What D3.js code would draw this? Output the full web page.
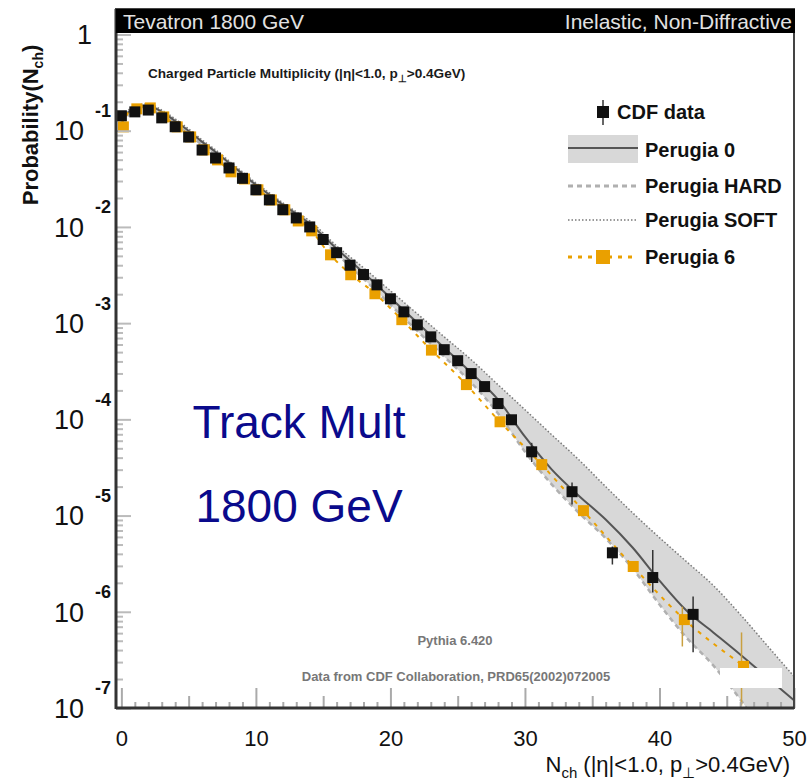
<!DOCTYPE html>
<html>
<head>
<meta charset="utf-8">
<script src="https://cdn.jsdelivr.net/npm/d3@7"></script>
<style>
  body { margin: 0; background: #fff; }
  svg text { font-family: "Liberation Sans", Arial, sans-serif; }
</style>
</head>
<body>
<div id="chart"></div>
<script>
// ---- data ----
var cdfX = [0,1,2,3,4,5,6,7,8,9,10,11,12,13,14,15,16,17,18,19,20,21,22,23,24,25,26,27,28,29,30.5,33.5,36.5,39.5,42.5];
var cdfY = [0.143,0.157,0.164,0.136,0.110,0.086,0.063,0.052,0.041,0.032,0.0243,0.0191,0.0151,0.0124,0.0100,
            0.0074,0.0054,0.0040,0.0032,0.0025,0.00179,0.00131,9.6e-4,7.2e-4,5.3e-4,4.07e-4,2.99e-4,2.19e-4,1.46e-4,9.9e-5,
            4.6e-5,1.77e-5,4.1e-6,2.27e-6,9.4e-7];
var cdfBarX  = [30.5,33.5,36.5,39.5,42.5];
var cdfBarLo = [3.6e-5,1.30e-5,3.1e-6,1.59e-6,3.8e-7];
var cdfBarHi = [5.7e-5,2.2e-5,4.77e-6,4.4e-6,1.44e-6];

var p6X = [0,1,2,3,4,5,6,7,8,9,10,11,12,13,14,15.4,16.9,18.7,20.7,22.9,25.5,28.0,31.1,34.2,37.9,41.7,46.1];
var p6Y = [0.115,0.177,0.181,0.146,0.115,0.0904,0.0663,0.0522,0.0392,0.0331,0.0255,0.0200,0.0158,0.0121,0.00955,
           0.00538,0.00334,0.00212,0.00114,5.5e-4,2.41e-4,9.9e-5,3.55e-5,1.18e-5,3.1e-6,8.7e-7,2.84e-7];
var p6BarX  = [41.7,46.1];
var p6BarLo = [4.36e-7,1.06e-7];
var p6BarHi = [1.13e-6,6.1e-7];

var mcX = [0,1,2,3,4,5,6,7,8,9,10,11,12,13,14,16,18,20,22,24,26,28,30,32,34,36,38,40,42,44,46,48,50];
var p0Y = [0.129,0.173,0.181,0.157,0.126,0.0995,0.0765,0.0602,0.0463,0.0356,0.0274,0.0216,0.0170,0.0137,0.0108,
           0.00593,0.00334,0.00184,0.00101,5.56e-4,3.05e-4,1.60e-4,6.6e-5,3.0e-5,1.61e-5,9.1e-6,4.66e-6,2.11e-6,
           1.03e-6,6.1e-7,3.6e-7,2.08e-7,1.20e-7];
var softY = [0.1358,0.181,0.190,0.164,0.1327,0.1044,0.0802,0.0632,0.0486,0.0373,0.0287,0.0226,0.0178,0.01435,0.01157,
             6.36e-3,3.76e-3,2.17e-3,1.25e-3,7.2e-4,4.17e-4,2.29e-4,1.26e-4,6.9e-5,3.81e-5,2.0e-5,1.07e-5,5.9e-6,
             3.33e-6,1.88e-6,9.4e-7,4.47e-7,2.13e-7];
var hardY = [0.1205,0.1606,0.1683,0.1459,0.1177,0.0927,0.0712,0.0561,0.0431,0.0331,0.0255,0.0200,0.0158,0.01274,0.01002,
             0.00526,0.00289,0.00155,8.3e-4,4.48e-4,2.41e-4,1.15e-4,4.6e-5,2.10e-5,1.07e-5,5.8e-6,2.82e-6,1.19e-6,
             5.4e-7,2.77e-7,1.23e-7,4.95e-8,2.0e-8];

var xTicks = [0,10,20,30,40,50];
var yDecades = [-7,-6,-5,-4,-3,-2,-1];
var legendNames = ["CDF data","Perugia 0","Perugia HARD","Perugia SOFT","Perugia 6"];

var orange = "#eaa000";

// ---- frame ----
var W = 812, H = 781;
var plotL = 116, plotR = 794, plotT = 9, plotB = 708;

var svg = d3.select("#chart").append("svg")
    .attr("width", W)
    .attr("height", H);

var x = d3.scaleLinear().domain([-0.4, 50]).range([plotL, plotR]);
var y = d3.scaleLog().domain([1e-7, Math.pow(10, 0.265)]).range([plotB, plotT]);

svg.append("clipPath").attr("id", "plotclip")
    .append("rect")
    .attr("x", plotL).attr("y", plotT)
    .attr("width", plotR - plotL).attr("height", plotB - plotT);

var plot = svg.append("g").attr("clip-path", "url(#plotclip)");

var mc = mcX.map(function (d, i) {
    return {x: d, p0: p0Y[i], soft: softY[i], hard: hardY[i]};
});

// band between HARD and SOFT
plot.append("path")
    .datum(mc)
    .attr("fill", "#d8d8d8")
    .attr("d", d3.area()
        .curve(d3.curveMonotoneX)
        .x(function (d) { return x(d.x); })
        .y0(function (d) { return y(d.hard); })
        .y1(function (d) { return y(d.soft); }));

function mcLine(key) {
    return d3.line()
        .curve(d3.curveMonotoneX)
        .x(function (d) { return x(d.x); })
        .y(function (d) { return y(d[key]); });
}

plot.append("path").datum(mc)
    .attr("fill", "none").attr("stroke", "#7a7a7a")
    .attr("stroke-width", 1.5).attr("stroke-dasharray", "1.5,2")
    .attr("d", mcLine("soft"));

plot.append("path").datum(mc)
    .attr("fill", "none").attr("stroke", "#b0b0b0")
    .attr("stroke-width", 2.5).attr("stroke-dasharray", "5,4")
    .attr("d", mcLine("hard"));

plot.append("path").datum(mc)
    .attr("fill", "none").attr("stroke", "#555")
    .attr("stroke-width", 2)
    .attr("d", mcLine("p0"));

// Perugia 6
var p6 = p6X.map(function (d, i) { return {x: d, y: p6Y[i]}; });
plot.append("path").datum(p6)
    .attr("fill", "none").attr("stroke", orange)
    .attr("stroke-width", 2).attr("stroke-dasharray", "4,6")
    .attr("d", d3.line().curve(d3.curveMonotoneX)
        .x(function (d) { return x(d.x); })
        .y(function (d) { return y(d.y); }));

plot.selectAll(".p6bar")
    .data(p6BarX)
    .enter().append("line")
    .attr("x1", function (d) { return x(d); })
    .attr("x2", function (d) { return x(d); })
    .attr("y1", function (d, i) { return y(p6BarLo[i]); })
    .attr("y2", function (d, i) { return y(p6BarHi[i]); })
    .attr("stroke", "#c9a040").attr("stroke-width", 1.5);

// CDF error bars
plot.selectAll(".cdfbar")
    .data(cdfBarX)
    .enter().append("line")
    .attr("x1", function (d) { return x(d); })
    .attr("x2", function (d) { return x(d); })
    .attr("y1", function (d, i) { return y(cdfBarLo[i]); })
    .attr("y2", function (d, i) { return y(cdfBarHi[i]); })
    .attr("stroke", "#333").attr("stroke-width", 1.5);

var ms = 11;
plot.selectAll(".p6m")
    .data(p6)
    .enter().append("rect")
    .attr("x", function (d) { return x(d.x) - ms / 2 + 2; })
    .attr("y", function (d) { return y(d.y) - ms / 2 + 2; })
    .attr("width", ms).attr("height", ms)
    .attr("fill", orange);

plot.selectAll(".cdfm")
    .data(cdfX)
    .enter().append("rect")
    .attr("x", function (d) { return x(d) - ms / 2; })
    .attr("y", function (d, i) { return y(cdfY[i]) - ms / 2; })
    .attr("width", ms).attr("height", ms)
    .attr("fill", "#111");

// white patch over the band
svg.append("rect")
    .attr("x", 720).attr("y", 668).attr("width", 62).attr("height", 20)
    .attr("fill", "#fff");

// ---- axes ----
var minorY = [];
yDecades.forEach(function (e) {
    for (var k = 2; k <= 9; k++) minorY.push(k * Math.pow(10, e));
});

svg.append("g")
    .attr("transform", "translate(" + plotL + ",0)")
    .call(d3.axisRight(y).tickValues(minorY).tickSize(7).tickFormat(""))
    .call(function (g) { g.select(".domain").remove(); })
    .selectAll("line").attr("stroke", "#bbb").attr("stroke-width", 2);

svg.append("g")
    .attr("transform", "translate(" + plotL + ",0)")
    .call(d3.axisRight(y).tickValues(yDecades.map(function (e) { return Math.pow(10, e); }).concat([1]))
        .tickSize(15).tickFormat(""))
    .call(function (g) { g.select(".domain").remove(); })
    .selectAll("line").attr("stroke", "#bbb").attr("stroke-width", 2);

var minorX = d3.range(0, 51);
svg.append("g")
    .attr("transform", "translate(0," + plotB + ")")
    .call(d3.axisTop(x).tickValues(minorX)
        .tickSize(0).tickFormat(""))
    .call(function (g) { g.select(".domain").remove(); })
    .selectAll(".tick line")
    .attr("y2", function (d) { return d % 10 === 0 ? -20 : (d % 5 === 0 ? -12 : -6); })
    .attr("stroke", "#aaa").attr("stroke-width", 2);

svg.append("g")
    .attr("transform", "translate(0," + plotB + ")")
    .call(d3.axisBottom(x).tickValues(xTicks).tickSize(0).tickPadding(22))
    .call(function (g) { g.select(".domain").remove(); })
    .selectAll("text")
    .attr("font-size", 22)
    .attr("font-family", "Liberation Sans, Arial, sans-serif")
    .attr("fill", "#111");

// y tick labels: 10^n
var ylab = svg.append("g");
yDecades.forEach(function (e) {
    var t = y(Math.pow(10, e));
    ylab.append("text")
        .attr("x", 84).attr("y", t).attr("dy", "0.36em")
        .attr("text-anchor", "end")
        .attr("font-size", 27).attr("fill", "#111")
        .text("10");
    ylab.append("text")
        .attr("x", 95).attr("y", t - 20).attr("dy", "0.36em")
        .attr("font-size", 18).attr("font-weight", "bold").attr("fill", "#111")
        .text(e);
});
ylab.append("text")
    .attr("x", 92).attr("y", y(1)).attr("dy", "0.36em")
    .attr("text-anchor", "end")
    .attr("font-size", 27).attr("fill", "#111")
    .text("1");

// frame
svg.append("rect")
    .attr("x", plotL).attr("y", plotT)
    .attr("width", plotR - plotL).attr("height", plotB - plotT)
    .attr("fill", "none").attr("stroke", "#444").attr("stroke-width", 2);
svg.append("line")
    .attr("x1", plotL).attr("x2", plotL).attr("y1", plotT).attr("y2", plotB + 1)
    .attr("stroke", "#333").attr("stroke-width", 3);
svg.append("line")
    .attr("x1", plotL).attr("x2", plotR).attr("y1", plotB).attr("y2", plotB)
    .attr("stroke", "#333").attr("stroke-width", 3);

// header bar
svg.append("rect")
    .attr("x", plotL).attr("y", plotT)
    .attr("width", plotR - plotL + 1).attr("height", 24)
    .attr("fill", "#000");
svg.append("text")
    .attr("x", 123).attr("y", 29)
    .attr("font-size", 21).attr("fill", "#e2e2e2")
    .text("Tevatron 1800 GeV");
svg.append("text")
    .attr("x", 792).attr("y", 29).attr("text-anchor", "end")
    .attr("font-size", 21).attr("fill", "#e2e2e2")
    .text("Inelastic, Non-Diffractive");

// subtitle
var sub = svg.append("text")
    .attr("x", 148).attr("y", 78)
    .attr("font-size", 13.6).attr("font-weight", "bold").attr("fill", "#1a1a1a");
sub.append("tspan").text("Charged Particle  Multiplicity (|\u03b7|<1.0, p");
sub.append("tspan").attr("font-size", 10).attr("dy", 4).text("\u22a5");
sub.append("tspan").attr("dy", -4).text(">0.4GeV)");

// axis titles
var yt = svg.append("text")
    .attr("transform", "translate(38,125) rotate(-90)")
    .attr("text-anchor", "middle")
    .attr("font-size", 22).attr("font-weight", "bold").attr("fill", "#111");
yt.append("tspan").text("Probability(N");
yt.append("tspan").attr("font-size", 14).attr("dy", 5).text("ch");
yt.append("tspan").attr("dy", -5).text(")");

var xt = svg.append("text")
    .attr("x", 790).attr("y", 772).attr("text-anchor", "end")
    .attr("font-size", 22).attr("fill", "#111");
xt.append("tspan").text("N");
xt.append("tspan").attr("font-size", 15).attr("dy", 6).text("ch");
xt.append("tspan").attr("dy", -6).text(" (|\u03b7|<1.0, p");
xt.append("tspan").attr("font-size", 15).attr("dy", 6).text("\u22a5");
xt.append("tspan").attr("dy", -6).text(">0.4GeV)");

// big blue labels
svg.append("text")
    .attr("x", 299).attr("y", 438).attr("text-anchor", "middle")
    .attr("font-size", 46).attr("fill", "#0a0a8c")
    .text("Track Mult");
svg.append("text")
    .attr("x", 299).attr("y", 522).attr("text-anchor", "middle")
    .attr("font-size", 46).attr("fill", "#0a0a8c")
    .text("1800 GeV");

// generator notes
svg.append("text")
    .attr("x", 455).attr("y", 645).attr("text-anchor", "middle")
    .attr("font-size", 13).attr("font-weight", "bold").attr("fill", "#777")
    .text("Pythia 6.420");
svg.append("text")
    .attr("x", 456).attr("y", 681).attr("text-anchor", "middle")
    .attr("font-size", 13).attr("font-weight", "bold").attr("fill", "#777")
    .text("Data from CDF Collaboration, PRD65(2002)072005");

// ---- legend ----
var lg = svg.append("g");
var rowY = [112, 150, 186, 220, 257];
var lx0 = 568, lx1 = 638, lmid = 603;

// CDF data
lg.append("line").attr("x1", lmid).attr("x2", lmid).attr("y1", rowY[0] - 12).attr("y2", rowY[0] + 13)
    .attr("stroke", "#333").attr("stroke-width", 1.5);
lg.append("rect").attr("x", lmid - 6).attr("y", rowY[0] - 6).attr("width", 12).attr("height", 12).attr("fill", "#111");
// Perugia 0
lg.append("rect").attr("x", lx0).attr("y", rowY[1] - 15).attr("width", lx1 - lx0).attr("height", 28).attr("fill", "#d8d8d8");
lg.append("line").attr("x1", lx0).attr("x2", lx1).attr("y1", rowY[1] - 2).attr("y2", rowY[1] - 2)
    .attr("stroke", "#555").attr("stroke-width", 2);
// HARD
lg.append("line").attr("x1", lx0).attr("x2", lx1).attr("y1", rowY[2]).attr("y2", rowY[2])
    .attr("stroke", "#b0b0b0").attr("stroke-width", 3).attr("stroke-dasharray", "5,4");
// SOFT
lg.append("line").attr("x1", lx0).attr("x2", lx1).attr("y1", rowY[3]).attr("y2", rowY[3])
    .attr("stroke", "#999").attr("stroke-width", 2).attr("stroke-dasharray", "1.5,2");
// Perugia 6
lg.append("line").attr("x1", lx0).attr("x2", lx1).attr("y1", rowY[4]).attr("y2", rowY[4])
    .attr("stroke", orange).attr("stroke-width", 3).attr("stroke-dasharray", "4,6");
lg.append("rect").attr("x", lmid - 7).attr("y", rowY[4] - 7).attr("width", 14).attr("height", 14).attr("fill", orange);

lg.selectAll(".lt")
    .data(legendNames)
    .enter().append("text")
    .attr("x", function (d, i) { return i === 0 ? 617 : 645; })
    .attr("y", function (d, i) { return rowY[i]; })
    .attr("dy", "0.36em")
    .attr("font-size", 20).attr("font-weight", "bold").attr("fill", "#111")
    .text(function (d) { return d; });
</script>
</body>
</html>
